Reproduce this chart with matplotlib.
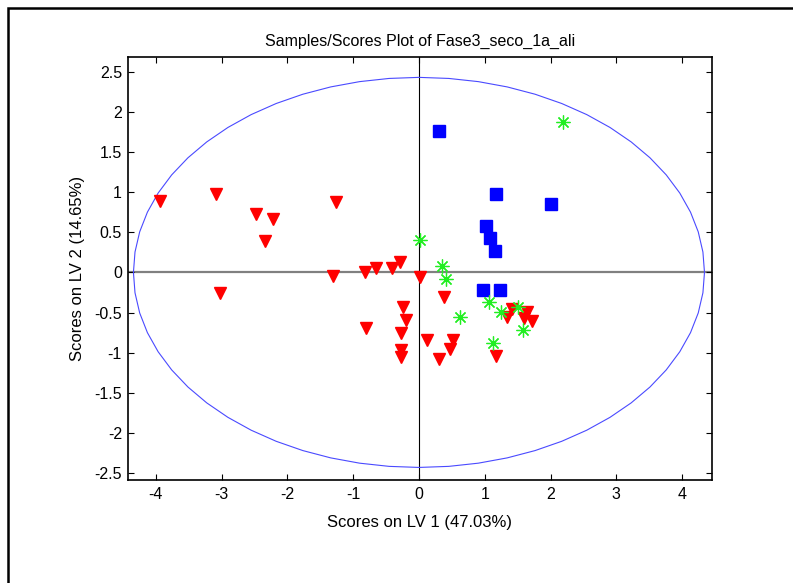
#!/usr/bin/env python3
"""PLS scores plot (LV1 vs LV2) with confidence ellipse, MATLAB look."""

import matplotlib
matplotlib.use("Agg")
import matplotlib.pyplot as plt
import numpy as np
from matplotlib.markers import MarkerStyle
from matplotlib.patches import Rectangle

# class 1: red down triangles
RED_X = [-3.94, -3.08, -2.47, -2.22, -2.34, -1.26, -3.02, -1.30, -0.82, -0.65,
         -0.41, -0.29, 0.02, 0.38, -0.24, -0.20, -0.80, -0.27, -0.27, -0.27,
         0.12, 0.52, 0.47, 0.31, 1.17, 1.41, 1.34, 1.64, 1.59, 1.72]
RED_Y = [0.89, 0.98, 0.73, 0.67, 0.39, 0.88, -0.26, -0.04, 0.00, 0.06,
         0.06, 0.13, -0.06, -0.31, -0.43, -0.59, -0.69, -0.76, -0.97, -1.05,
         -0.84, -0.84, -0.95, -1.08, -1.04, -0.46, -0.55, -0.49, -0.57, -0.60]

# class 2: blue squares
BLUE_X = [0.31, 1.17, 2.01, 1.02, 1.08, 1.16, 0.97, 1.23]
BLUE_Y = [1.76, 0.98, 0.85, 0.58, 0.43, 0.27, -0.22, -0.22]

# class 3: green asterisks
GREEN_X = [2.19, 0.01, 0.35, 0.41, 0.63, 1.07, 1.25, 1.51, 1.58, 1.13]
GREEN_Y = [1.88, 0.40, 0.08, -0.08, -0.55, -0.37, -0.49, -0.43, -0.72, -0.88]

# 95% confidence ellipse semi-axes
ELLIPSE_A = 4.34
ELLIPSE_B = 2.43

X_TICKS = [-4, -3, -2, -1, 0, 1, 2, 3, 4]
Y_TICKS = [-2.5, -2, -1.5, -1, -0.5, 0, 0.5, 1, 1.5, 2, 2.5]

plt.rcParams.update({
    "font.family": ["Liberation Sans", "DejaVu Sans"],
    "font.size": 10,
})

fig = plt.figure(figsize=(7.93, 5.83), dpi=100)
fig.patches.append(Rectangle((0.0105, -0.1), 1.2, 1.0865, transform=fig.transFigure,
                             fill=False, edgecolor="black", linewidth=1.8))

ax = fig.add_axes([0.1608, 0.1762, 0.7367, 0.7262])

ax.axhline(0, color="#808080", linewidth=1.6, zorder=1)
ax.axvline(0, color="black", linewidth=0.8, zorder=1)

t = np.linspace(0, 2 * np.pi, 61)
ax.plot(ELLIPSE_A * np.cos(t), ELLIPSE_B * np.sin(t), color="#4a4aff", linewidth=0.8, zorder=2)

ax.plot(RED_X, RED_Y, linestyle="none", marker="v", markersize=9,
        color="red", markeredgecolor="red", zorder=3)
ax.plot(BLUE_X, BLUE_Y, linestyle="none", marker="s", markersize=8,
        color="blue", markeredgecolor="blue", zorder=3)
ax.plot(GREEN_X, GREEN_Y, linestyle="none", marker=MarkerStyle((8, 2, 0)), markersize=10,
        markeredgecolor="#22ee22", markeredgewidth=0.9, zorder=4)

ax.set_xlim(-4.43, 4.45)
ax.set_ylim(-2.59, 2.685)
ax.set_xticks(X_TICKS, [f"{v:g}" for v in X_TICKS])
ax.set_yticks(Y_TICKS, [f"{v:g}" for v in Y_TICKS])
ax.tick_params(direction="in", length=4, width=0.8, top=True, right=True, labelsize=11.5)
ax.tick_params(axis="x", pad=5)
ax.tick_params(axis="y", pad=4)
for sp in ax.spines.values():
    sp.set_linewidth(1.2)

ax.set_title("Samples/Scores Plot of Fase3_seco_1a_ali", pad=8, fontsize=11.5)
ax.set_xlabel("Scores on LV 1 (47.03%)", labelpad=9, fontsize=12)
ax.set_ylabel("Scores on LV 2 (14.65%)", labelpad=7, fontsize=12)

fig.savefig("out.png", dpi=100)
